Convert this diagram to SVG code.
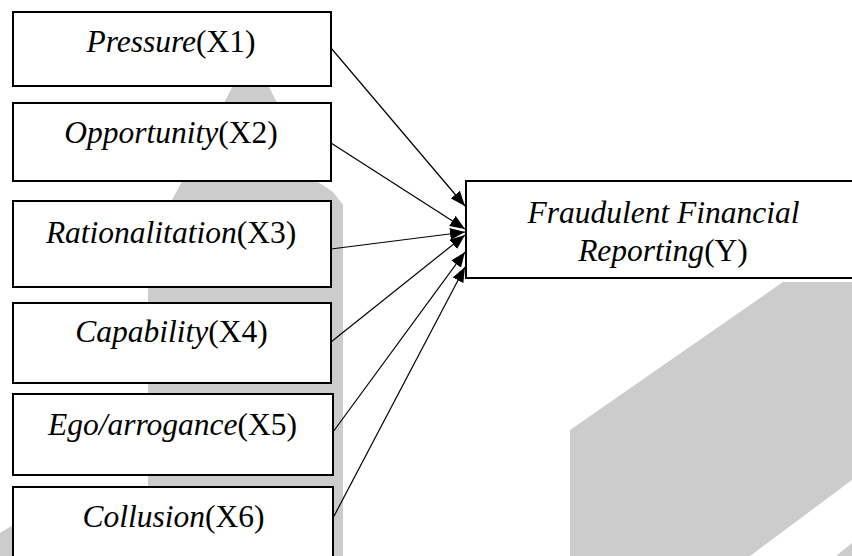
<svg xmlns="http://www.w3.org/2000/svg" width="852" height="556" viewBox="0 0 852 556">
<style>
.wm{fill:#cccccc;stroke:none}
.box{fill:#ffffff;stroke:#000000;stroke-width:2}
.conn{stroke:#000000;stroke-width:1.2;fill:none}
</style>
<defs>
<marker id="arr" markerUnits="userSpaceOnUse" markerWidth="16" markerHeight="12" refX="15" refY="6" orient="auto">
<path d="M0,0 L15,6 L0,12 z" fill="#000000"/>
</marker>
</defs>
<rect width="852" height="556" fill="#ffffff"/>
<g id="watermark">
<polygon class="wm" points="251,52 318,182 333,192 343,205 343,556 148,556 148,245"/>
<polygon class="wm" points="570,430 783,282 852,282 852,480 750,556 570,556"/>
<polygon class="wm" points="852,543 836,556 852,556"/>
<polygon class="wm" points="0,533 13,525 13,556 0,556"/>
</g>
<g id="connectors">
<line class="conn" x1="331" y1="48" x2="465" y2="206" marker-end="url(#arr)"/>
<line class="conn" x1="331" y1="143" x2="465" y2="229" marker-end="url(#arr)"/>
<line class="conn" x1="331" y1="249" x2="465" y2="232" marker-end="url(#arr)"/>
<line class="conn" x1="331" y1="342" x2="465" y2="235" marker-end="url(#arr)"/>
<line class="conn" x1="333" y1="432" x2="465" y2="252" marker-end="url(#arr)"/>
<line class="conn" x1="333" y1="518" x2="465" y2="267" marker-end="url(#arr)"/>
</g>
<g font-family="Liberation Serif, serif" font-size="31.5" fill="#000000" text-anchor="middle">
<g id="node-x1">
<rect class="box" x="13" y="12" width="318" height="74"/>
<text x="171" y="52"><tspan font-style="italic">Pressure</tspan>(X1)</text>
</g>
<g id="node-x2">
<rect class="box" x="13" y="103" width="318" height="78"/>
<text x="171" y="143"><tspan font-style="italic">Opportunity</tspan>(X2)</text>
</g>
<g id="node-x3">
<rect class="box" x="13" y="201" width="318" height="86"/>
<text x="171" y="243"><tspan font-style="italic">Rationalitation</tspan>(X3)</text>
</g>
<g id="node-x4">
<rect class="box" x="13" y="303" width="318" height="80"/>
<text x="171.5" y="342"><tspan font-style="italic">Capability</tspan>(X4)</text>
</g>
<g id="node-x5">
<rect class="box" x="13" y="394" width="320" height="81"/>
<text x="172.5" y="435"><tspan font-style="italic">Ego/arrogance</tspan>(X5)</text>
</g>
<g id="node-x6">
<rect class="box" x="13" y="487" width="320" height="80"/>
<text x="173.5" y="527"><tspan font-style="italic">Collusion</tspan>(X6)</text>
</g>
<g id="node-y">
<rect class="box" x="466" y="181" width="420" height="97"/>
<text x="663.5" y="223" font-style="italic">Fraudulent Financial</text>
<text x="663" y="261"><tspan font-style="italic">Reporting</tspan>(Y)</text>
</g>
</g>
</svg>
